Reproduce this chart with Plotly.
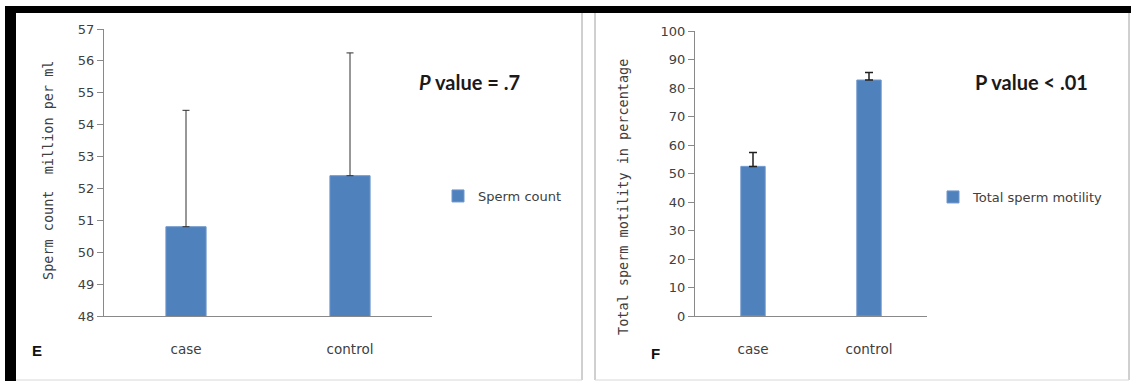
import plotly.graph_objects as go

W, H = 1131, 381

categories = ["case", "control"]
count_values = [50.8, 52.4]
count_err_plus = [3.65, 3.85]
motility_values = [52.5, 82.8]
motility_err_plus = [4.9, 2.6]
count_ticks = [48, 49, 50, 51, 52, 53, 54, 55, 56, 57]
motility_ticks = [0, 10, 20, 30, 40, 50, 60, 70, 80, 90, 100]

BLUE = "#4F81BD"
AXIS = "#898989"
TXT = "#404040"
FONT = "DejaVu Sans"

def px(x):
    return x / W

def py(y):
    return (H - y) / H

fig = go.Figure()

fig.add_trace(go.Bar(
    x=categories, y=count_values, name="Sperm count",
    marker=dict(color=BLUE, line=dict(color="#6F97CC", width=1)),
    width=0.245,
    error_y=dict(type="data", symmetric=False, array=count_err_plus,
                 arrayminus=[0, 0], color="#303030", thickness=1, width=3.5),
    xaxis="x", yaxis="y", legend="legend",
))
fig.add_trace(go.Bar(
    x=categories, y=motility_values, name="Total sperm motility",
    marker=dict(color=BLUE, line=dict(color="#6F97CC", width=1)),
    width=0.21,
    error_y=dict(type="data", symmetric=False, array=motility_err_plus,
                 arrayminus=[0, 0], color="#202020", thickness=1.5, width=4),
    xaxis="x2", yaxis="y2", legend="legend2",
))

axis_common = dict(showgrid=False, zeroline=False, showline=True,
                   linecolor=AXIS, linewidth=1, fixedrange=True,
                   automargin=False)

fig.update_layout(
    template="none",
    width=W, height=H, autosize=False,
    margin=dict(l=0, r=0, t=0, b=0, pad=0, autoexpand=False),
    paper_bgcolor="white", plot_bgcolor="white",
    font=dict(family=FONT, color=TXT, size=12),
    showlegend=True,
    xaxis=dict(domain=[px(104), px(432)], range=[-0.5, 1.5], anchor="y",
               ticks="", tickfont=dict(size=13.5, color=TXT),
               ticklabelstandoff=21, **axis_common),
    yaxis=dict(domain=[py(316), py(29)], range=[48, 57], anchor="x",
               tickvals=count_ticks, ticks="outside", ticklen=6,
               tickcolor=AXIS, tickfont=dict(size=13, color=TXT),
               **axis_common),
    xaxis2=dict(domain=[px(695), px(927)], range=[-0.5, 1.5], anchor="y2",
                ticks="", tickfont=dict(size=13.5, color=TXT),
                ticklabelstandoff=21, **axis_common),
    yaxis2=dict(domain=[py(316), py(31)], range=[0, 100], anchor="x2",
                tickvals=motility_ticks, ticks="outside", ticklen=6,
                tickcolor=AXIS, tickfont=dict(size=13, color=TXT),
                **axis_common),
    legend=dict(x=px(438), y=py(196), xanchor="left", yanchor="middle",
                font=dict(size=13, color=TXT), bgcolor="rgba(0,0,0,0)",
                borderwidth=0, itemwidth=30, tracegroupgap=0),
    legend2=dict(x=px(933), y=py(197), xanchor="left", yanchor="middle",
                 font=dict(size=13, color=TXT), bgcolor="rgba(0,0,0,0)",
                 borderwidth=0, itemwidth=30, tracegroupgap=0),
    bargap=0.75,
)

annotations = [
    dict(text="Sperm count  million per ml", x=px(48), y=py(171),
         textangle=-90, font=dict(size=13.5, color=TXT, family="DejaVu Sans Mono")),
    dict(text="Total sperm motility in percentage", x=px(623), y=py(197),
         textangle=-90, font=dict(size=13.5, color=TXT, family="DejaVu Sans Mono")),
    dict(text="<b><i>P</i> value = .7</b>", x=px(469), y=py(82),
         font=dict(size=20, color="#1a1a1a", family="Lato")),
    dict(text="<b>P value &lt; .01</b>", x=px(1031), y=py(82),
         font=dict(size=20, color="#1a1a1a", family="Lato")),
    dict(text="<b>E</b>", x=px(37), y=py(350),
         font=dict(size=15, color="#111", family="Liberation Sans")),
    dict(text="<b>F</b>", x=px(655), y=py(353),
         font=dict(size=15, color="#111", family="Liberation Sans")),
]
for a in annotations:
    a.update(xref="paper", yref="paper", showarrow=False,
             xanchor="center", yanchor="middle")
fig.update_layout(annotations=annotations)

shapes = [
    dict(type="rect", x0=px(5), x1=px(1131), y0=py(13), y1=py(6),
         fillcolor="black", line=dict(width=0)),
    dict(type="rect", x0=px(5), x1=px(16), y0=py(381), y1=py(6),
         fillcolor="black", line=dict(width=0)),
    dict(type="line", x0=px(582), x1=px(582), y0=py(380), y1=py(13),
         line=dict(color="#A0A0A0", width=1)),
    dict(type="line", x0=px(595), x1=px(595), y0=py(380), y1=py(13),
         line=dict(color="#A0A0A0", width=1)),
    dict(type="line", x0=px(1129), x1=px(1129), y0=py(380), y1=py(13),
         line=dict(color="#A0A0A0", width=1)),
    dict(type="line", x0=px(16), x1=px(582), y0=py(380), y1=py(380),
         line=dict(color="#D8D8D8", width=1)),
    dict(type="line", x0=px(595), x1=px(1129), y0=py(380), y1=py(380),
         line=dict(color="#D8D8D8", width=1)),
]
for s in shapes:
    s.update(xref="paper", yref="paper")
fig.update_layout(shapes=shapes)

fig.write_html(
    "out.html",
    config={"displayModeBar": False, "responsive": False},
    post_script="document.body.style.margin='0';document.body.style.overflow='hidden';",
)
